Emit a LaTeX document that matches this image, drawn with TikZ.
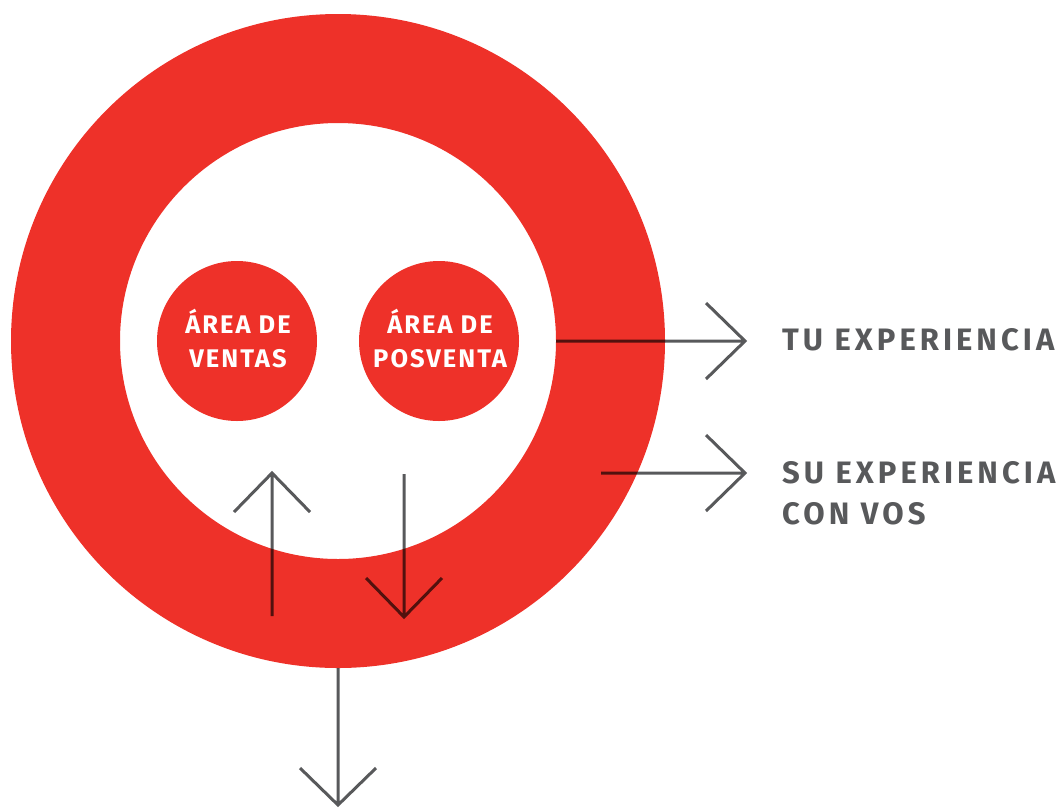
\documentclass[tikz,border=0pt]{standalone}
\usepackage{fontspec}
\setmainfont{Fira Sans}
\newfontfamily\labfont[LetterSpace=13]{Fira Sans}
\newfontfamily\inlabfont[LetterSpace=8]{Fira Sans}
\usetikzlibrary{calc}
\definecolor{ringred}{HTML}{EE3129}
\definecolor{linegray}{HTML}{58595B}
\tikzset{
  conn/.style={draw=linegray, line width=3pt, blend mode=multiply, line cap=butt, line join=miter},
  outlab/.style={anchor=west, text=linegray, font=\labfont\bfseries\fontsize{31}{41}\selectfont, align=left, inner sep=0pt},
  inlab/.style={text=white, font=\inlabfont\bfseries\fontsize{25.5}{34}\selectfont, align=center, inner sep=0pt},
  disc/.style={circle, fill=ringred, inner sep=0pt, minimum size=#1}
}
\begin{document}
\begin{tikzpicture}[x=1pt, y=-1pt]
\useasboundingbox (0,0) rectangle (1064,807);
% ring
\fill[ringred, even odd rule] (338,341) circle (327) (338,341) circle (218);
\coordinate (center) at (338,341);
% inner discs
\node[disc=160pt] (ventas) at (237,341) {};
\node[disc=160pt] (posventa) at (439,341) {};
\node[inlab] (ventaslab) at (238,339) {ÁREA DE\\VENTAS};
\node[inlab] (posventalab) at (440,339) {ÁREA DE\\POSVENTA};
% labels
\node[outlab] (tu) at (782,340) {TU EXPERIENCIA};
\node[outlab] (su) at (782,493) {SU EXPERIENCIA\\CON VOS};
% arrow anchors
\coordinate (a1s) at (556,341); \coordinate (a1t) at (745,341);
\coordinate (a2s) at (601,473); \coordinate (a2t) at (745,473);
\coordinate (a3s) at (272,616); \coordinate (a3t) at (272,473);
\coordinate (a4s) at (404,474); \coordinate (a4t) at (404,617);
\coordinate (a5s) at (338,668); \coordinate (a5t) at (338,805);
\path[conn] (a1s) -- (a1t) ($(a1t)+(-39,-38)$) -- (a1t) -- ($(a1t)+(-39,38)$);
\path[conn] (a2s) -- (a2t) ($(a2t)+(-39,-38)$) -- (a2t) -- ($(a2t)+(-39,38)$);
\path[conn] (a3s) -- (a3t) ($(a3t)+(-38,39)$) -- (a3t) -- ($(a3t)+(38,39)$);
\path[conn] (a4s) -- (a4t) ($(a4t)+(-38,-39)$) -- (a4t) -- ($(a4t)+(38,-39)$);
\path[conn] (a5s) -- (a5t) ($(a5t)+(-38,-37)$) -- (a5t) -- ($(a5t)+(38,-37)$);
\end{tikzpicture}
\end{document}
